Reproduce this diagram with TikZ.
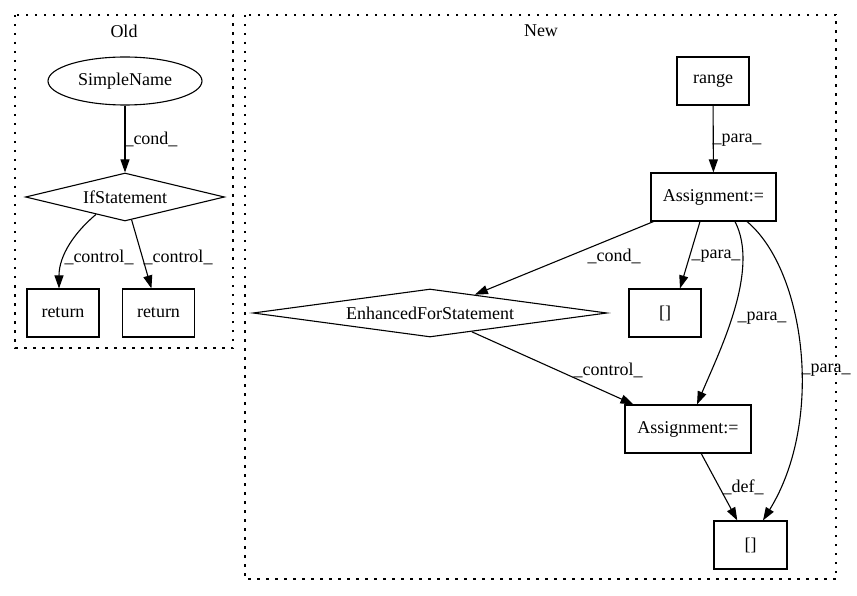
\documentclass[tikz,border=0pt]{standalone}
\usepackage{fontspec}
\setmainfont{Liberation Serif}
\usetikzlibrary{arrows.meta,shapes.geometric}

\begin{document}
\begin{tikzpicture}[x=1pt,y=-1pt,
        font=\fontsize{18}{20}\selectfont,
        every node/.style={inner sep=0pt},
        box/.style={draw,rectangle,line width=1.1pt,minimum width=72pt,minimum height=48pt},
        dia/.style={draw,diamond,line width=1.1pt,minimum height=48pt},
        edge/.style={line width=1.1pt,-{Triangle[length=13pt,width=9pt]}},
        cluster/.style={line width=1.2pt,dash pattern=on 2.5pt off 6.5pt}]
        
        \useasboundingbox (0,0) rectangle (857,596);
        
        \draw[cluster] (15,15) rectangle (233,348);
        \draw[cluster] (245,15) rectangle (836,579);
        \node (tOld) at (124,31) {Old};
        \node (tNew) at (541,31) {New};
        
        \node[draw,ellipse,line width=1.1pt,minimum width=154pt,minimum height=48pt] (sn) at (125,81) {SimpleName};
        \node[dia,minimum width=199pt,shape aspect=4.15] (ifs) at (125,197) {IfStatement};
        \node[box] (retA) at (63,313) {return};
        \node[box] (retB) at (158.5,313) {return};
        
        \node[box] (rng) at (713,81) {range};
        \node[box,minimum width=125pt] (asgA) at (713.5,197) {Assignment:=};
        \node[dia,minimum width=354pt,shape aspect=7.4] (efor) at (430,313) {EnhancedForStatement};
        \node[box] (brA) at (665,313) {[]};
        \node[box,minimum width=126pt] (asgB) at (688,429) {Assignment:=};
        \node[box,minimum width=73pt] (brB) at (750.5,545) {[]};
        
        \draw[edge] (sn) -- (ifs);
        \draw[edge] (ifs.211) .. controls (75,232) and (59,255) .. ([xshift=-4pt]retA.north);
        \draw[edge] (ifs) -- (retB);
        \node (lCondA) at (151,139) {\_cond\_};
        \node (lCtlA) at (99,257) {\_control\_};
        \node (lCtlB) at (178,257) {\_control\_};
        
        \draw[edge] (rng) -- (asgA);
        \draw[edge] (asgA) -- (efor);
        \draw[edge] ([xshift=-13.5pt]asgA.south) -- ([xshift=15pt]brA.north);
        \draw[edge] ([xshift=21.5pt]asgA.south) .. controls (760,270) and (720,350) .. ([xshift=9pt]asgB.north);
        \draw[edge] ([xshift=33.5pt]asgA.south) .. controls (805,270) and (825,420) .. ([xshift=12.5pt]brB.north);
        \draw[edge] (efor) -- (asgB);
        \draw[edge] (asgB) -- (brB);
        
        \node (lParaA) at (737,140) {\_para\_};
        \node (lCondB) at (614,256) {\_cond\_};
        \node (lParaB) at (716,256) {\_para\_};
        \node (lParaC) at (762,318) {\_para\_};
        \node (lParaD) at (826,370) {\_para\_};
        \node (lCtlC) at (608,370) {\_control\_};
        \node (lDef) at (743,487) {\_def\_};
        
\end{tikzpicture}
\end{document}
